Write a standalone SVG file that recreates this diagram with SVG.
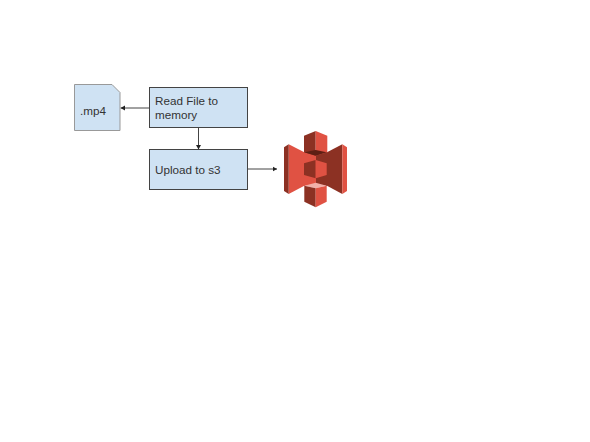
<svg xmlns="http://www.w3.org/2000/svg" width="590" height="442" viewBox="0 0 590 442">
<style>
.box{fill:#cfe2f3;stroke:#434343;stroke-width:1}
.doc{fill:#cfe2f3;stroke:#999;stroke-width:1}
text{font-family:"Liberation Sans",Arial,sans-serif;font-size:11.700px;fill:#333}
.c{stroke:#444;stroke-width:1;fill:none;marker-end:url(#a)}
.l{fill:#e05243}.d{fill:#8c3123}.p{fill:#f2b0a9}.s{fill:#5e1f14}
</style>
<defs><marker id="a" markerUnits="userSpaceOnUse" markerWidth="5" markerHeight="6" refX="4.500" refY="3" orient="auto"><path d="M0 .5L4.500 3L0 5.500z" fill="#222"/></marker></defs>
<rect width="590" height="442" fill="#fff"/>
<g id="connectors">
<path class="c" d="M149.500 108H120.500"/>
<path class="c" d="M198.500 127.500V149.500"/>
<path class="c" d="M247.500 169H277"/>
</g>
<g id="file"><path class="doc" d="M74.500 84.500H112L120 92.500V130.500H74.500z"/><text x="80" y="115">.mp4</text></g>
<g id="read"><rect class="box" x="149.500" y="87.500" width="98" height="40"/><text x="155" y="105">Read File to</text><text x="155" y="119">memory</text></g>
<g id="upload"><rect class="box" x="149.500" y="149.500" width="98" height="40"/><text x="155" y="174">Upload to s3</text></g>
<g id="s3">
<path class="d" d="M327 152.300L342.300 144.300V194L327 185.700z"/>
<path class="l" d="M288.700 144.300L304.300 152.300V185.700L288.700 194z"/>
<path class="l" d="M304 152L316 150V185L304 186z"/>
<path class="d" d="M316 150L327 152V186L316 185z"/>
<path class="d" d="M284 147.300L288.700 144.300V194L284 191z"/>
<path class="l" d="M342.300 144.300L347 147.300V191L342.300 194z"/>
<path class="d" d="M304 135.700L315.700 131V155.700L304 152.300z"/>
<path class="l" d="M315.700 131L327.300 135.700V152.300L315.700 155.700z"/>
<path class="s" d="M304.300 152.300L315.700 150L326.700 152.300L315.700 155.700z"/>
<path class="d" d="M304 163.300L315.700 160V178.300L304 175z"/>
<path class="l" d="M315.700 160L326.700 163.300V175L315.700 178.300z"/>
<path class="p" d="M304.300 185.700L315.700 182.700L326.700 185.700L315.700 188.300z"/>
<path class="d" d="M304.300 185.700L315.700 188.300V207.300L304.300 201.700z"/>
<path class="l" d="M315.700 188.300L326.700 185.700V201.700L315.700 207.300z"/>
</g>
</svg>
